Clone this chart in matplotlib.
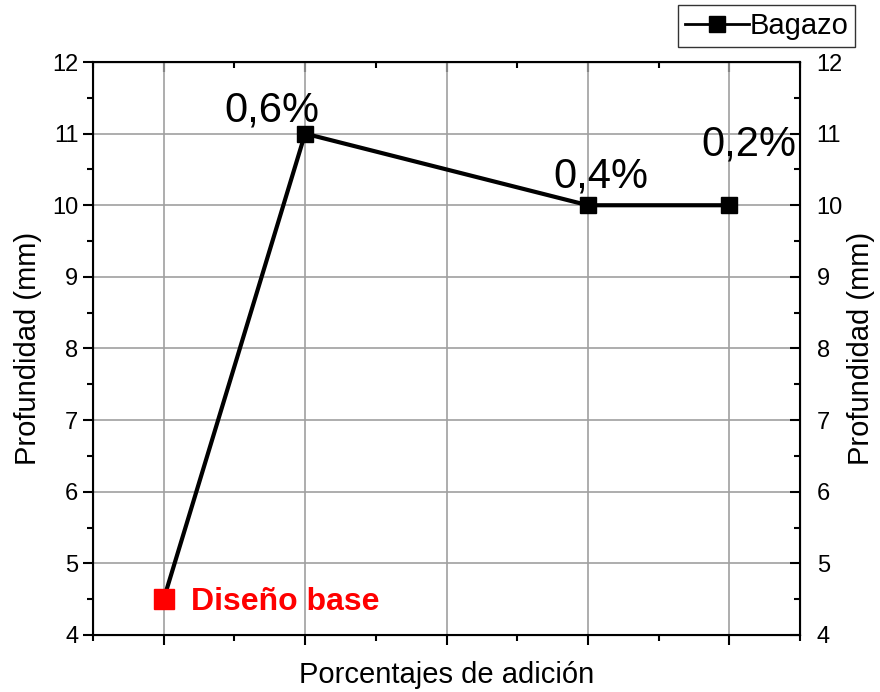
import matplotlib
matplotlib.use('Agg')
import matplotlib.pyplot as plt
from matplotlib.ticker import MultipleLocator, NullFormatter

plt.rcParams['font.family'] = ['Liberation Sans', 'DejaVu Sans']

# data
x_pos = [1, 2, 4, 5]
depth = [4.5, 11, 10, 10]
point_labels = ['Diseño base', '0,6%', '0,4%', '0,2%']
# label offsets in points (dx, dy) from each point
label_offsets = [(20, -8), (-24, 9), (9, 13), (14, 36)]

fig = plt.figure(figsize=(8.8, 6.92), dpi=100)
ax = fig.add_axes([0.1057, 0.0824, 0.8034, 0.828])

line, = ax.plot(x_pos, depth, color='black', lw=3, marker='s', markersize=11,
                label='Bagazo', zorder=3)
# base design highlighted in red
ax.plot(x_pos[0], depth[0], marker='s', color='red', markersize=14,
        linestyle='none', zorder=4)

for i, (xv, yv, txt) in enumerate(zip(x_pos, depth, point_labels)):
    dx, dy = label_offsets[i]
    if i == 0:
        ax.annotate(txt, (xv, yv), xytext=(dx, dy), textcoords='offset points',
                    ha='left', va='baseline', color='red', fontsize=23,
                    fontweight='bold')
    else:
        ax.annotate(txt, (xv, yv), xytext=(dx, dy), textcoords='offset points',
                    ha='center', va='baseline', color='black', fontsize=30)

ax.set_xlim(0.5, 5.5)
ax.set_ylim(4, 12)
ax.xaxis.set_major_locator(MultipleLocator(1))
ax.xaxis.set_minor_locator(MultipleLocator(0.5))
ax.xaxis.set_major_formatter(NullFormatter())
ax.yaxis.set_major_locator(MultipleLocator(1))
ax.yaxis.set_minor_locator(MultipleLocator(0.5))
ax.grid(True, which='major', color='#a0a0a0', lw=1.2)
ax.set_axisbelow(True)

ax.tick_params(which='major', direction='out', length=7, width=1.5, labelsize=17)
ax.tick_params(which='minor', direction='out', length=4, width=1.5)
for s in ax.spines.values():
    s.set_linewidth(1.5)

ax.set_xlabel('Porcentajes de adición', fontsize=21, labelpad=8)
ax.set_ylabel('Profundidad (mm)', fontsize=21, labelpad=7)

# top ticks (inward, no labels)
top = ax.secondary_xaxis('top')
top.xaxis.set_major_locator(MultipleLocator(1))
top.xaxis.set_minor_locator(MultipleLocator(0.5))
top.xaxis.set_major_formatter(NullFormatter())
top.tick_params(which='major', direction='in', length=7, width=1.5)
top.tick_params(which='minor', direction='in', length=4, width=1.5)

# right axis mirror
right = ax.twinx()
right.set_ylim(ax.get_ylim())
right.yaxis.set_major_locator(MultipleLocator(1))
right.yaxis.set_minor_locator(MultipleLocator(0.5))
right.tick_params(which='major', direction='in', length=7, width=1.5, labelsize=17, pad=12)
right.tick_params(which='minor', direction='in', length=4, width=1.5)
right.set_ylabel('Profundidad (mm)', fontsize=21, labelpad=3)

leg = fig.legend(handles=[line], loc='upper right', bbox_to_anchor=(0.972, 0.993),
                 fontsize=21, frameon=True, fancybox=False, edgecolor='black',
                 handlelength=2.2, handletextpad=0.0, borderpad=0.25,
                 borderaxespad=0)
leg.get_lines()[0].set_linewidth(2)

fig.savefig('out.png', dpi=100)
